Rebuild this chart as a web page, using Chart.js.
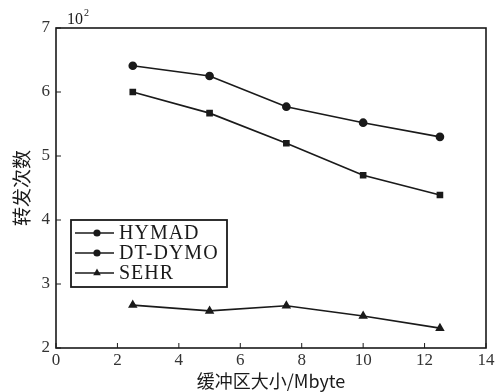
<!DOCTYPE html>
<html>
<head>
<meta charset="utf-8">
<script src="https://cdn.jsdelivr.net/npm/chart.js@4"></script>
<style>
  html, body { margin: 0; padding: 0; background: #fff; }
</style>
</head>
<body>
<canvas id="chart" width="503" height="392"></canvas>
<script>
/* ---------- DATA ---------- */

const bufferSizes = [2.5, 5, 7.5, 10, 12.5];
const hymad = [6.00, 5.67, 5.20, 4.70, 4.39];
const dtdymo = [6.41, 6.25, 5.77, 5.52, 5.30];
const sehr = [2.67, 2.58, 2.66, 2.50, 2.31];

const seriesNames = ["HYMAD", "DT-DYMO", "SEHR"];
const seriesMarkers = ["rect", "circle", "triangle"];
const xTitle = "缓冲区大小/Mbyte";
const yTitle = "转发次数";
const yUnit = "10";
const yUnitExp = "2";

const SERIF = "'Liberation Serif', 'DejaVu Serif', serif";
const CJK = "'Noto Sans CJK SC', " + SERIF;
const INK = "#1a1a1a";

function toPoints(values) {
  return bufferSizes.map((x, i) => ({ x, y: values[i] }));
}

function makeDataset(label, values, marker) {
  return {
    label,
    data: toPoints(values),
    borderColor: INK,
    backgroundColor: INK,
    borderWidth: 1.7,
    pointStyle: marker,
    pointRadius: marker === "triangle" ? 3.8 : 3.5,
    pointBackgroundColor: INK,
    pointBorderColor: INK,
    tension: 0
  };
}

/* ---------- PLUGIN: FRAME, INWARD TICKS, LEGEND, UNIT ---------- */

const frameAndExtras = {
  id: "frameAndExtras",
  afterDraw(chart) {
    const { ctx, chartArea: a, scales } = chart;
    ctx.save();
    ctx.strokeStyle = INK;
    ctx.lineWidth = 1.6;
    ctx.strokeRect(a.left, a.top, a.right - a.left, a.bottom - a.top);

    // inward ticks
    ctx.lineWidth = 1;
    scales.x.ticks.forEach(t => {
      const px = scales.x.getPixelForValue(t.value);
      ctx.beginPath();
      ctx.moveTo(px, a.bottom);
      ctx.lineTo(px, a.bottom - 5);
      ctx.stroke();
    });
    scales.y.ticks.forEach(t => {
      const py = scales.y.getPixelForValue(t.value);
      ctx.beginPath();
      ctx.moveTo(a.left, py);
      ctx.lineTo(a.left + 5, py);
      ctx.stroke();
    });

    // unit label 10^2
    ctx.fillStyle = INK;
    ctx.textBaseline = "alphabetic";
    ctx.textAlign = "left";
    ctx.font = "16px " + SERIF;
    ctx.fillText(yUnit, a.left + 11, a.top - 4);
    const w = ctx.measureText(yUnit).width;
    ctx.font = "10px " + SERIF;
    ctx.fillText(yUnitExp, a.left + 12 + w, a.top - 12);

    // legend box
    const bx = 71, by = 220, bw = 156, bh = 67;
    ctx.fillStyle = "#fff";
    ctx.fillRect(bx, by, bw, bh);
    ctx.lineWidth = 1.8;
    ctx.strokeRect(bx, by, bw, bh);
    const rows = [233, 253, 273];
    chart.data.datasets.forEach((ds, i) => {
      const y = rows[i];
      ctx.strokeStyle = INK;
      ctx.fillStyle = INK;
      ctx.lineWidth = 1.6;
      ctx.beginPath();
      ctx.moveTo(bx + 4, y);
      ctx.lineTo(bx + 43, y);
      ctx.stroke();
      Chart.helpers.drawPoint(ctx, {
        pointStyle: ds.pointStyle === "rect" ? "circle" : ds.pointStyle,
        radius: 2.8,
        borderWidth: 1
      }, bx + 26, y);
      ctx.fillStyle = INK;
      ctx.font = "20px " + SERIF;
      ctx.letterSpacing = "1px";
      ctx.textBaseline = "middle";
      ctx.fillText(ds.label, bx + 48, y + 1);
      ctx.letterSpacing = "0px";
    });
    ctx.restore();
  }
};

/* ---------- CHART ---------- */

Chart.defaults.font.family = SERIF;
Chart.defaults.color = INK;

new Chart(document.getElementById("chart"), {
  type: "line",
  data: {
    datasets: [
      makeDataset(seriesNames[0], hymad, seriesMarkers[0]),
      makeDataset(seriesNames[1], dtdymo, seriesMarkers[1]),
      makeDataset(seriesNames[2], sehr, seriesMarkers[2])
    ]
  },
  options: {
    responsive: false,
    animation: false,
    layout: { padding: { left: 0, top: 28, right: 17, bottom: 0 } },
    plugins: {
      legend: { display: false },
      tooltip: { enabled: false }
    },
    scales: {
      x: {
        type: "linear",
        min: 0,
        max: 14,
        ticks: { stepSize: 2, padding: 2, font: { size: 17, family: SERIF }, color: "#333" },
        grid: { display: false, drawTicks: false },
        border: { display: false },
        title: {
          display: true,
          text: xTitle,
          font: { size: 18, family: CJK },
          color: INK,
          padding: { top: 0, bottom: 0 }
        },
        afterFit(scale) { scale.height = 44; }
      },
      y: {
        min: 2,
        max: 7,
        ticks: { stepSize: 1, padding: 6, font: { size: 17, family: SERIF }, color: "#333" },
        grid: { display: false, drawTicks: false },
        border: { display: false },
        title: {
          display: true,
          text: yTitle,
          font: { size: 19, family: CJK },
          color: INK,
          padding: { top: 10, bottom: 0 }
        },
        afterFit(scale) { scale.width = 56; }
      }
    }
  },
  plugins: [frameAndExtras]
});
</script>
</body>
</html>
